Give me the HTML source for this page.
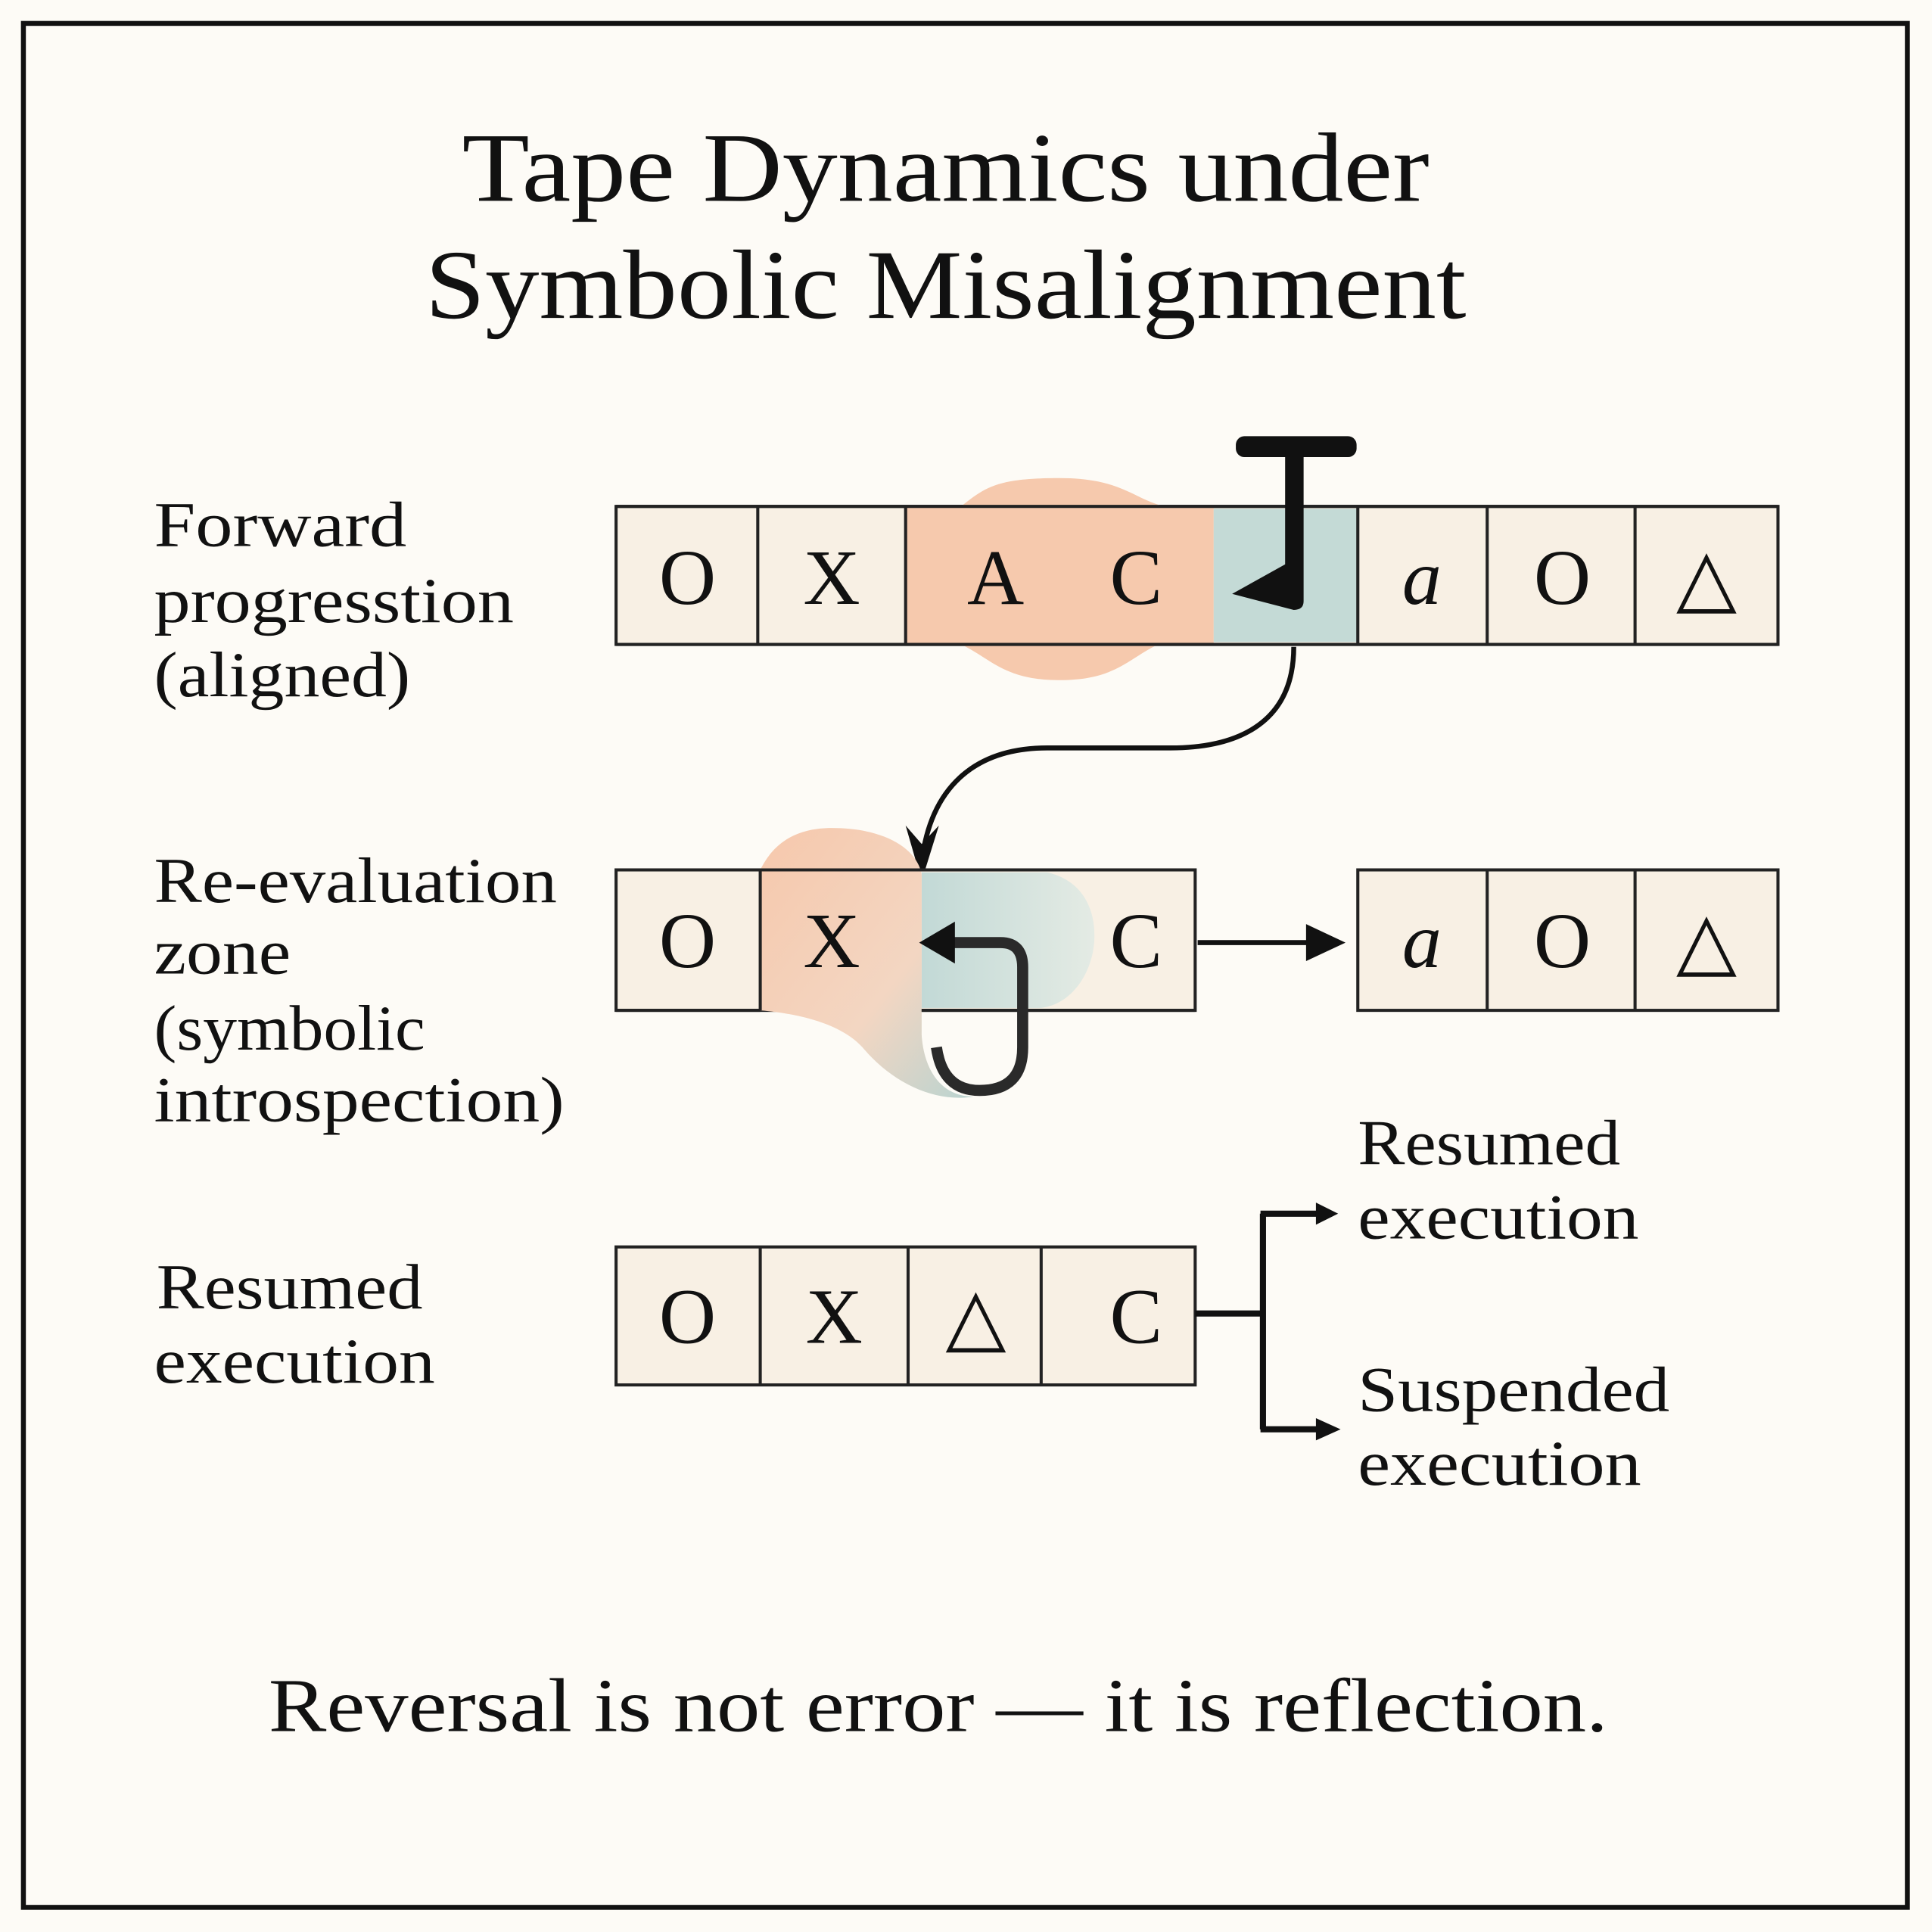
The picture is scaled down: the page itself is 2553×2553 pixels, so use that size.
<!DOCTYPE html>
<html><head><meta charset="utf-8"><style>
html,body{margin:0;padding:0;background:#fdfbf6}
svg{display:block}
text{font-family:"Liberation Serif",serif;fill:#111}
</style></head><body>
<svg width="2553" height="2553" viewBox="0 0 1568 1568" xmlns="http://www.w3.org/2000/svg">
<defs>
<linearGradient id="lg" x1="0" y1="0" x2="1" y2="1">
<stop offset="0" stop-color="#f6c8ac"/><stop offset="0.6" stop-color="#f3d6c2"/><stop offset="1" stop-color="#b9d3d0"/>
</linearGradient>
<linearGradient id="tg" x1="0" y1="0" x2="1" y2="0">
<stop offset="0" stop-color="#c2d9d6"/><stop offset="1" stop-color="#e4ebe4"/>
</linearGradient>
</defs>
<rect x="0" y="0" width="1568" height="1568" fill="#fdfbf6"/>
<rect x="19" y="19" width="1529" height="1529" fill="none" stroke="#111" stroke-width="4"/>
<text x="375" y="163" font-size="80" textLength="785" lengthAdjust="spacingAndGlyphs">Tape Dynamics under</text>
<text x="345" y="258" font-size="80" textLength="845" lengthAdjust="spacingAndGlyphs">Symbolic Misalignment</text>

<g font-size="52">
<text x="125" y="443" textLength="205" lengthAdjust="spacingAndGlyphs">Forward</text>
<text x="125" y="505" textLength="292" lengthAdjust="spacingAndGlyphs">progresstion</text>
<text x="125" y="565" textLength="208" lengthAdjust="spacingAndGlyphs">(aligned)</text>
<text x="125" y="732" textLength="327" lengthAdjust="spacingAndGlyphs">Re-evaluation</text>
<text x="125" y="790" textLength="111" lengthAdjust="spacingAndGlyphs">zone</text>
<text x="125" y="852" textLength="220" lengthAdjust="spacingAndGlyphs">(symbolic</text>
<text x="125" y="910" textLength="333" lengthAdjust="spacingAndGlyphs">introspection)</text>
<text x="127" y="1062" textLength="216" lengthAdjust="spacingAndGlyphs">Resumed</text>
<text x="125" y="1122" textLength="228" lengthAdjust="spacingAndGlyphs">execution</text>
<text x="1102" y="945" textLength="213" lengthAdjust="spacingAndGlyphs">Resumed</text>
<text x="1102" y="1005" textLength="228" lengthAdjust="spacingAndGlyphs">execution</text>
<text x="1102" y="1145" textLength="253" lengthAdjust="spacingAndGlyphs">Suspended</text>
<text x="1102" y="1205" textLength="230" lengthAdjust="spacingAndGlyphs">execution</text>
</g>
<text x="218" y="1405" font-size="62" textLength="1087" lengthAdjust="spacingAndGlyphs">Reversal is not error — it is reflection.</text>

<!-- Row 1 -->
<rect x="500" y="411" width="943" height="112" fill="#f8f0e4" stroke="#222" stroke-width="2.5"/>
<path d="M735,411 L780,411 C800,395 810,388 860,388 C910,388 920,405 945,411 L985,411 L985,523 L940,523 C915,535 905,552 860,552 C815,552 805,535 780,523 L735,523 Z" fill="#f6c9ad"/>
<rect x="985" y="413" width="117" height="108" fill="#c4dad6"/>
<g stroke="#222" stroke-width="2.5">
<line x1="500" y1="411" x2="1443" y2="411"/><line x1="500" y1="523" x2="1443" y2="523"/>
<line x1="615" y1="411" x2="615" y2="523"/><line x1="735" y1="411" x2="735" y2="523"/>
<line x1="1102" y1="411" x2="1102" y2="523"/><line x1="1207" y1="411" x2="1207" y2="523"/><line x1="1327" y1="411" x2="1327" y2="523"/>
</g>
<g font-size="64" text-anchor="middle">
<text x="558" y="490">O</text><text x="675" y="490">X</text><text x="808" y="490">A</text><text x="922" y="490">C</text>
<text x="1154" y="490" font-style="italic">a</text><text x="1268" y="490">O</text><text x="1385" y="490">△</text>
</g>
<!-- head -->
<rect x="1003" y="354" width="98" height="17" rx="7" fill="#111"/>
<path d="M1043,365 L1058,365 L1058,488 Q1058,495 1050,495 L1000,482 L1043,458 Z" fill="#111"/>
<!-- curve -->
<path d="M1050,525 C1050,590 1000,607 950,607 L850,607 C790,607 755,640 748,700" fill="none" stroke="#111" stroke-width="4"/>
<path d="M735,670 L748,715 L762,670 L748,685 Z" fill="#111"/>

<!-- Row 2 -->
<rect x="500" y="706" width="470" height="114" fill="#f8f0e4" stroke="#222" stroke-width="2.5"/>
<path d="M748,708 L850,708 C880,715 890,740 888,765 C886,790 870,815 845,818 L748,818 Z" fill="url(#tg)"/>
<path d="M617,706 C625,690 640,672 675,672 C720,672 745,690 748,710 L748,840 C750,870 765,890 790,890 C760,895 725,880 700,850 C680,828 640,822 617,820 Z" fill="url(#lg)"/>
<g stroke="#222" stroke-width="2.5">
<line x1="500" y1="706" x2="970" y2="706"/><line x1="500" y1="820" x2="617" y2="820"/><line x1="748" y1="820" x2="970" y2="820"/>
<line x1="617" y1="706" x2="617" y2="820"/>
</g>
<path d="M770,765 L812,765 Q830,765 830,785 L830,850 Q830,885 795,885 Q765,885 760,850" fill="none" stroke="#2a2a2a" stroke-width="9"/>
<path d="M746,765 L775,748 L775,782 Z" fill="#111"/>
<g font-size="64" text-anchor="middle">
<text x="558" y="785">O</text><text x="675" y="785">X</text><text x="922" y="785">C</text>
</g>
<line x1="972" y1="765" x2="1075" y2="765" stroke="#111" stroke-width="4"/>
<path d="M1060,750 L1092,765 L1060,780 Z" fill="#111"/>
<rect x="1102" y="706" width="341" height="114" fill="#f8f0e4" stroke="#222" stroke-width="2.5"/>
<g stroke="#222" stroke-width="2.5"><line x1="1207" y1="706" x2="1207" y2="820"/><line x1="1327" y1="706" x2="1327" y2="820"/></g>
<g font-size="64" text-anchor="middle">
<text x="1154" y="785" font-style="italic">a</text><text x="1268" y="785">O</text><text x="1385" y="785">△</text>
</g>

<!-- Row 3 -->
<rect x="500" y="1012" width="470" height="112" fill="#f8f0e4" stroke="#222" stroke-width="2.5"/>
<g stroke="#222" stroke-width="2.5">
<line x1="617" y1="1012" x2="617" y2="1124"/><line x1="737" y1="1012" x2="737" y2="1124"/><line x1="845" y1="1012" x2="845" y2="1124"/>
</g>
<g font-size="64" text-anchor="middle">
<text x="558" y="1090">O</text><text x="677" y="1090">X</text><text x="792" y="1090">△</text><text x="922" y="1090">C</text>
</g>
<g stroke="#111" stroke-width="5" fill="none">
<line x1="970" y1="1066" x2="1025" y2="1066"/>
<line x1="1025" y1="985" x2="1025" y2="1160"/>
<line x1="1023" y1="985" x2="1072" y2="985"/>
<line x1="1023" y1="1160" x2="1072" y2="1160"/>
</g>
<path d="M1068,976 L1086,985 L1068,994 Z" fill="#111"/>
<path d="M1068,1151 L1088,1160 L1068,1169 Z" fill="#111"/>
</svg>
</body></html>
